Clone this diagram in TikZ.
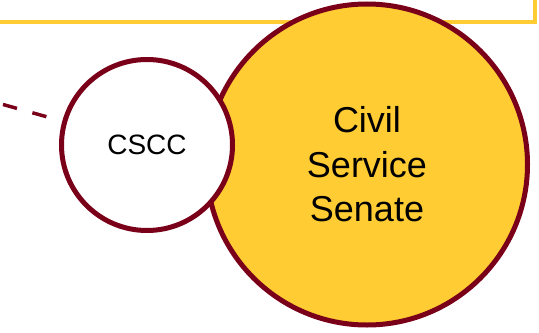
\documentclass[tikz,border=0pt]{standalone}
\usepackage{amsmath}
\usepackage{fontspec}
\setmainfont{Liberation Sans}
\usepackage{tikz}

\definecolor{maroon}{RGB}{122,0,25}
\definecolor{gold}{RGB}{255,204,51}

\begin{document}
\begin{tikzpicture}[x=0.75pt,y=0.75pt,yscale=-1,xscale=1,
  body/.style={circle, draw=maroon, line width=3.75pt, inner sep=0pt, align=center},
  link/.style={draw=maroon, line width=2.6pt, dash pattern=on 10.9pt off 12pt, dash phase=5pt}]
%set diagram size
\useasboundingbox (0,0) rectangle (539,332);
\clip (0,0) rectangle (539,332);

%Shape: Rectangle [frame]
\draw [gold, line width=2.4pt] (-40,-60) rectangle (535,22) ;

%Free end of the dashed line
\coordinate (offpage) at (-20,98) ;

% Senate circle
\node [body, fill=gold, minimum size=321*0.75pt, font=\fontsize{27}{33.4}\selectfont] (senate) at (367,164.5) {Civil\\Service\\Senate};
% CSCC circle
\node [body, fill=white, minimum size=171*0.75pt, font=\fontsize{21}{25}\selectfont] (cscc) at (147,145) {CSCC};

%Dashed Lines
\draw [link, shorten >=12pt] (offpage) -- (cscc) ;

\end{tikzpicture}
\end{document}
